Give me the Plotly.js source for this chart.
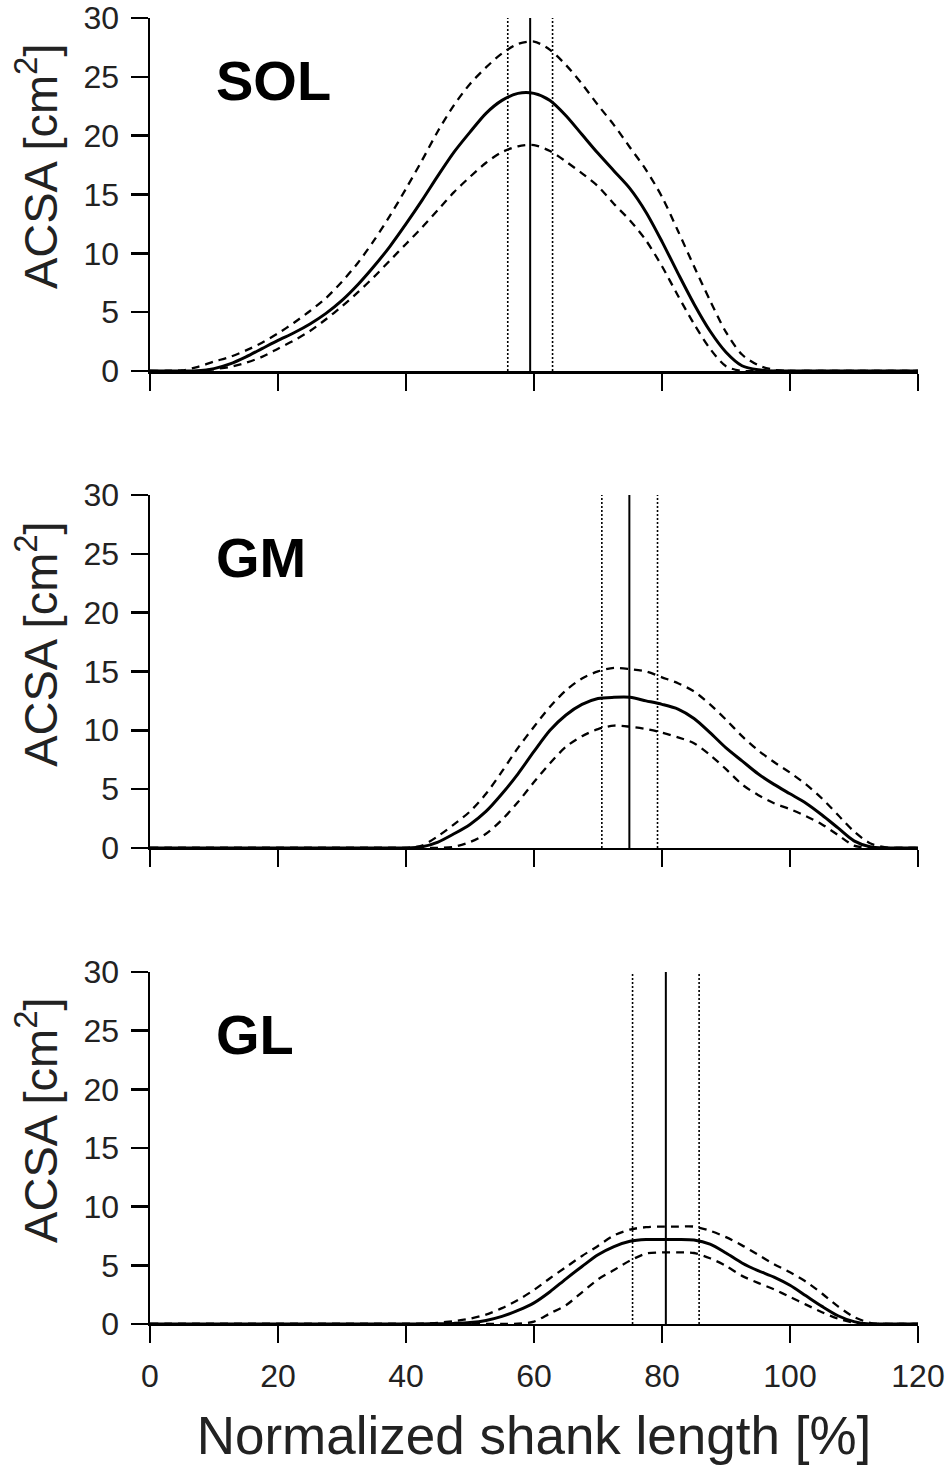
<!DOCTYPE html>
<html>
<head>
<meta charset="utf-8">
<script src="https://cdn.plot.ly/plotly-3.0.1.min.js"></script>
<style>
  html, body { margin: 0; padding: 0; background: #fff; }
  #chart { width: 952px; height: 1467px; }
</style>
</head>
<body>
<div id="chart"></div>
<script>
// Normalized shank length [%] (sample positions)
const shankPos = [0, 2.5, 5, 7.5, 10, 12.5, 15, 17.5, 20, 22.5, 25, 27.5, 30, 32.5, 35, 37.5,
                  40, 42.5, 45, 47.5, 50, 52.5, 55, 57.5, 60, 62.5, 65, 67.5, 70, 72.5, 75, 77.5,
                  80, 82.5, 85, 87.5, 90, 92.5, 95, 97.5, 100, 102.5, 105, 107.5, 110, 112.5, 115, 117.5, 120];

// SOL: mean, mean + SD, mean - SD
const solMean  = [0, 0, 0, 0.02, 0.2, 0.6, 1.2, 1.9, 2.6, 3.25, 4.0, 4.9, 6.0, 7.35, 8.9, 10.6,
                  12.5, 14.5, 16.6, 18.6, 20.3, 21.9, 23.0, 23.6, 23.6, 23.0, 21.7, 20.1, 18.5, 17.0, 15.5, 13.5,
                  11.0, 8.3, 5.7, 3.4, 1.6, 0.45, 0.1, 0, 0, 0, 0, 0, 0, 0, 0, 0, 0];
const solUpper = [0, 0, 0.05, 0.35, 0.8, 1.2, 1.75, 2.4, 3.2, 4.1, 5.1, 6.2, 7.6, 9.2, 11.1, 13.2,
                  15.5, 17.9, 20.4, 22.6, 24.4, 25.8, 27.0, 27.8, 28.0, 27.3, 26.0, 24.4, 22.6, 20.9, 19.0, 17.1,
                  14.8, 11.9, 8.9, 6.0, 3.3, 1.4, 0.5, 0.1, 0, 0, 0, 0, 0, 0, 0, 0, 0];
const solLower = [0, 0, 0, 0, 0.15, 0.35, 0.7, 1.2, 1.9, 2.6, 3.4, 4.4, 5.5, 6.7, 8.0, 9.4,
                  10.8, 12.2, 13.7, 15.2, 16.5, 17.7, 18.6, 19.1, 19.2, 18.7, 17.8, 16.8, 15.7, 14.2, 12.8, 11.1,
                  8.9, 6.4, 4.0, 1.9, 0.4, 0, 0, 0, 0, 0, 0, 0, 0, 0, 0, 0, 0];

// GM
const gmMean  = [0, 0, 0, 0, 0, 0, 0, 0, 0, 0, 0, 0, 0, 0, 0, 0,
                 0, 0.1, 0.5, 1.2, 2.0, 3.1, 4.6, 6.3, 8.2, 10.0, 11.3, 12.2, 12.7, 12.8, 12.8, 12.5,
                 12.2, 11.8, 11.0, 9.8, 8.5, 7.4, 6.3, 5.4, 4.6, 3.8, 2.8, 1.7, 0.6, 0.1, 0, 0, 0];
const gmUpper = [0, 0, 0, 0, 0, 0, 0, 0, 0, 0, 0, 0, 0, 0, 0, 0,
                 0, 0.2, 1.0, 2.0, 3.1, 4.6, 6.5, 8.5, 10.3, 12.0, 13.4, 14.4, 15.0, 15.3, 15.2, 15.0,
                 14.5, 14.0, 13.3, 12.2, 10.9, 9.5, 8.3, 7.3, 6.4, 5.4, 4.2, 2.8, 1.4, 0.4, 0.05, 0, 0];
const gmLower = [0, 0, 0, 0, 0, 0, 0, 0, 0, 0, 0, 0, 0, 0, 0, 0,
                 0, 0, 0, 0.1, 0.5, 1.2, 2.4, 3.9, 5.6, 7.2, 8.6, 9.5, 10.1, 10.4, 10.3, 10.1,
                 9.8, 9.4, 8.9, 7.9, 6.7, 5.4, 4.5, 3.8, 3.3, 2.7, 2.0, 1.1, 0.2, 0, 0, 0, 0];

// GL
const glMean  = [0, 0, 0, 0, 0, 0, 0, 0, 0, 0, 0, 0, 0, 0, 0, 0,
                 0, 0, 0.02, 0.05, 0.12, 0.3, 0.65, 1.15, 1.8, 2.75, 3.85, 4.9, 5.9, 6.6, 7.05, 7.2,
                 7.2, 7.2, 7.15, 6.8, 6.05, 5.2, 4.55, 4.0, 3.3, 2.4, 1.5, 0.7, 0.2, 0, 0, 0, 0];
const glUpper = [0, 0, 0, 0, 0, 0, 0, 0, 0, 0, 0, 0, 0, 0, 0, 0,
                 0, 0.02, 0.1, 0.25, 0.45, 0.8, 1.35, 2.05, 2.9, 3.9, 4.85, 5.8, 6.65, 7.55, 8.05, 8.25,
                 8.3, 8.3, 8.3, 7.95, 7.4, 6.7, 5.9, 5.1, 4.4, 3.6, 2.6, 1.5, 0.6, 0.1, 0, 0, 0];
const glLower = [0, 0, 0, 0, 0, 0, 0, 0, 0, 0, 0, 0, 0, 0, 0, 0,
                 0, 0, 0, 0, 0, 0, 0, 0.02, 0.2, 0.9, 1.6, 2.7, 3.8, 4.6, 5.4, 6.0,
                 6.1, 6.1, 6.05, 5.6, 4.95, 4.1, 3.5, 2.95, 2.3, 1.65, 1.0, 0.45, 0.1, 0, 0, 0, 0];

// location of the maximal ACSA: mean, mean - SD, mean + SD
const muscles   = ["SOL", "GM", "GL"];
const peakMean  = [59.4, 74.9, 80.6];
const peakLow   = [55.9, 70.6, 75.4];
const peakHigh  = [62.9, 79.3, 85.8];

const yTicks = [0, 5, 10, 15, 20, 25, 30];
const xTicks = [0, 20, 40, 60, 80, 100, 120];

const curves = [
  [solMean, solUpper, solLower],
  [gmMean, gmUpper, gmLower],
  [glMean, glUpper, glLower]
];

const font = "Liberation Sans, Arial, sans-serif";
const textColor = "#222";

// panel domains (paper fractions)
const yDomains = [[0.7471, 0.9877], [0.4220, 0.6626], [0.0975, 0.3374]];
const titleY = [0.8868, 0.5611, 0.2366];

let data = [];
let layout = {
  width: 952,
  height: 1467,
  margin: { t: 0, b: 0, l: 0, r: 0 },
  paper_bgcolor: "#fff",
  plot_bgcolor: "rgba(0,0,0,0)",
  showlegend: false,
  font: { family: font, color: textColor },
  annotations: []
};

muscles.forEach((m, i) => {
  const n = i === 0 ? "" : String(i + 1);
  const xa = "x" + n, ya = "y" + n;
  const [mean, upper, lower] = curves[i];

  // vertical lines: position of max ACSA and its SD
  data.push({ x: [peakLow[i], peakLow[i]], y: [0, 30], xaxis: xa, yaxis: ya, type: "scatter", mode: "lines",
              line: { color: "#000", width: 1.6, dash: "2px,2px" }, hoverinfo: "skip" });
  data.push({ x: [peakHigh[i], peakHigh[i]], y: [0, 30], xaxis: xa, yaxis: ya, type: "scatter", mode: "lines",
              line: { color: "#000", width: 1.6, dash: "2px,2px" }, hoverinfo: "skip" });
  data.push({ x: [peakMean[i], peakMean[i]], y: [0, 30], xaxis: xa, yaxis: ya, type: "scatter", mode: "lines",
              line: { color: "#000", width: 2 }, hoverinfo: "skip" });

  // SD curves
  [upper, lower].forEach(arr => {
    data.push({ x: shankPos, y: arr, xaxis: xa, yaxis: ya, type: "scatter", mode: "lines", cliponaxis: false,
                line: { color: "#000", width: 2.3, dash: "8px,6px", shape: "spline", smoothing: 0.8 } });
  });
  // mean curve
  data.push({ x: shankPos, y: mean, xaxis: xa, yaxis: ya, type: "scatter", mode: "lines", cliponaxis: false,
              line: { color: "#000", width: 3, shape: "spline", smoothing: 0.8 } });

  layout["xaxis" + n] = {
    domain: [150 / 952, 918 / 952],
    anchor: ya,
    range: [0, 120],
    tickvals: xTicks,
    showticklabels: i === 2,
    ticks: "outside",
    ticklen: 17,
    tickwidth: 2.5,
    tickcolor: "#000",
    ticklabelstandoff: 5,
    showline: true,
    linecolor: "#000",
    linewidth: 2.5,
    showgrid: false,
    zeroline: false,
    fixedrange: true,
    tickfont: { family: font, size: 32, color: textColor },
    title: i === 2 ? { text: "Normalized shank length [%]", font: { family: font, size: 53, color: textColor }, standoff: 24 } : { text: "" }
  };
  layout["yaxis" + n] = {
    domain: yDomains[i],
    anchor: xa,
    range: [0, 30],
    tickvals: yTicks,
    ticks: "outside",
    ticklen: 17,
    tickwidth: 2.5,
    tickcolor: "#000",
    ticklabelstandoff: 5,
    showline: true,
    linecolor: "#000",
    linewidth: 2.5,
    showgrid: false,
    zeroline: false,
    fixedrange: true,
    tickfont: { family: font, size: 32, color: textColor }
  };

  // y title
  layout.annotations.push({
    text: "ACSA [cm<sup>2</sup>]",
    xref: "paper", yref: "paper",
    x: 37 / 952, y: titleY[i],
    xanchor: "center", yanchor: "middle",
    textangle: -90,
    showarrow: false,
    font: { family: font, size: 47, color: textColor }
  });
  // muscle label
  layout.annotations.push({
    text: "<b>" + m + "</b>",
    xref: xa, yref: ya,
    x: 10.0, y: 24.7,
    xanchor: "left", yanchor: "middle",
    showarrow: false,
    font: { family: font, size: 56, color: "#000" }
  });
});

Plotly.newPlot("chart", data, layout, { staticPlot: true });
</script>
</body>
</html>
